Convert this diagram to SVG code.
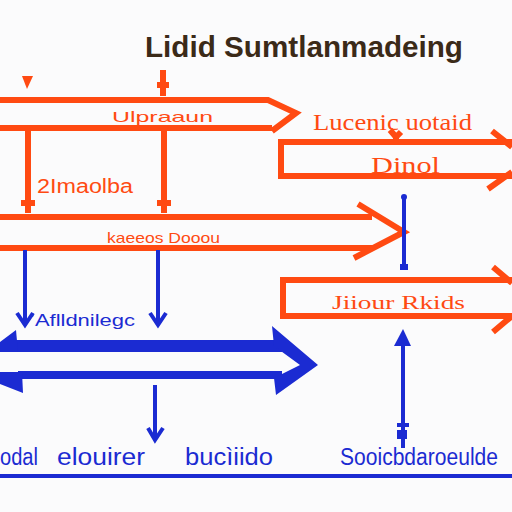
<svg xmlns="http://www.w3.org/2000/svg" width="512" height="512" viewBox="0 0 512 512">
<style>
.o{fill:none;stroke:#ff4a12;stroke-width:6;stroke-linejoin:miter;stroke-linecap:butt}
.b{fill:none;stroke:#1b2bd2;stroke-width:4}
.to{fill:#ff4a12;font-family:"Liberation Sans",Arial,sans-serif}
.ts{fill:#ff4a12;font-family:"Liberation Serif","Times New Roman",serif}
.tb{fill:#1b2bd2;font-family:"Liberation Sans",Arial,sans-serif}
</style>
<rect width="512" height="512" fill="#fbfbfc"/>
<g id="title">
<text x="145" y="57" font-family="Liberation Sans,Arial,sans-serif" font-weight="bold" font-size="29" fill="#3b2a18" textLength="318" lengthAdjust="spacingAndGlyphs">Lidid Sumtlanmadeing</text>
</g>
<g id="node-upraaun">
<path class="o" d="M0 100 H268 L296 113 L272 131 M0 128 H272"/>
<text class="to" x="112" y="122" font-size="15" textLength="101" lengthAdjust="spacingAndGlyphs">Ulpraaun</text>
</g>
<g id="node-lucenic">
<text class="ts" x="313" y="130" font-size="23" textLength="159" lengthAdjust="spacingAndGlyphs">Lucenic uotaid</text>
</g>
<g id="node-dinol">
<path class="o" d="M512 142 H281 V176 H512 M492 131 L512 147 M488 189 L512 172"/>
<text class="ts" x="371" y="173" font-size="23" textLength="69" lengthAdjust="spacingAndGlyphs">Dinol</text>
</g>
<g id="node-2imaolba">
<text class="to" x="37" y="193" font-size="20" textLength="96" lengthAdjust="spacingAndGlyphs">2Imaolba</text>
</g>
<g id="node-kaeeos">
<path class="o" d="M0 217 H372 M358 204 L404 232 L354 258 M0 248 H372"/>
<text class="to" x="107" y="243" font-size="15" textLength="113" lengthAdjust="spacingAndGlyphs">kaeeos Dooou</text>
</g>
<g id="node-jiiour">
<path class="o" d="M512 280 H283 V316 H512 M493 267 L512 283 M493 332 L512 316"/>
<text class="ts" x="332" y="309" font-size="19" textLength="133" lengthAdjust="spacingAndGlyphs">Jiiour Rkids</text>
</g>
<g id="node-afilldnilegc">
<text class="tb" x="30" y="326" font-size="16" textLength="105" lengthAdjust="spacingAndGlyphs">ʼAflldnilegc</text>
</g>
<g id="node-blue-arrow" fill="#1b2bd2">
<rect x="14" y="340" width="268" height="12"/>
<rect x="18" y="371" width="264" height="8"/>
<path d="M0 342 L16 330 L18 352 H0 Z M0 372 H22 L23 393 L0 384 Z"/>
<path d="M272 326 L318 365 L276 395 L274 378 L300 365 L274 346 Z"/>
</g>
<g id="node-bottom">
<text class="tb" x="0" y="465" font-size="23" textLength="38" lengthAdjust="spacingAndGlyphs">odal</text>
<text class="tb" x="57" y="465" font-size="23" textLength="88" lengthAdjust="spacingAndGlyphs">elouirer</text>
<text class="tb" x="185" y="465" font-size="23" textLength="88" lengthAdjust="spacingAndGlyphs">bucìiido</text>
<text class="tb" x="340" y="465" font-size="23" textLength="158" lengthAdjust="spacingAndGlyphs">Sooicbdaroeulde</text>
<path class="b" d="M0 476 H512"/>
</g>
<g id="connectors">
<path fill="#ff4a12" d="M22 76 H33 L27 89 Z"/>
<path class="o" stroke-width="3" d="M163 70 V96 M157 85 H169"/>
<path class="o" stroke-width="3" d="M28 128 V213 M21 203 H35 M164 128 V213 M157 203 H171"/>
<path class="o" stroke-width="2.5" d="M390 130 L396 137 L401 132 M396 137 V142"/>
<path class="b" d="M404 197 V268"/>
<circle cx="404" cy="197" r="3" fill="#1b2bd2"/>
<rect x="400" y="264" width="8" height="6" fill="#1b2bd2"/>
<path class="b" d="M25 250 V325 M17 313 L25 325 L33 313"/>
<path class="b" d="M158 250 V325 M150 313 L158 325 L166 313"/>
<path class="b" d="M155 385 V440 M148 428 L155 440 L163 428"/>
<path class="b" stroke-width="5" d="M403 448 V340"/>
<path fill="#1b2bd2" d="M394 346 L403 329 L411 346 Z"/>
<rect x="397" y="423" width="12" height="4" fill="#1b2bd2"/>
<rect x="397" y="430" width="10" height="9" fill="#1b2bd2"/>
</g>
</svg>
